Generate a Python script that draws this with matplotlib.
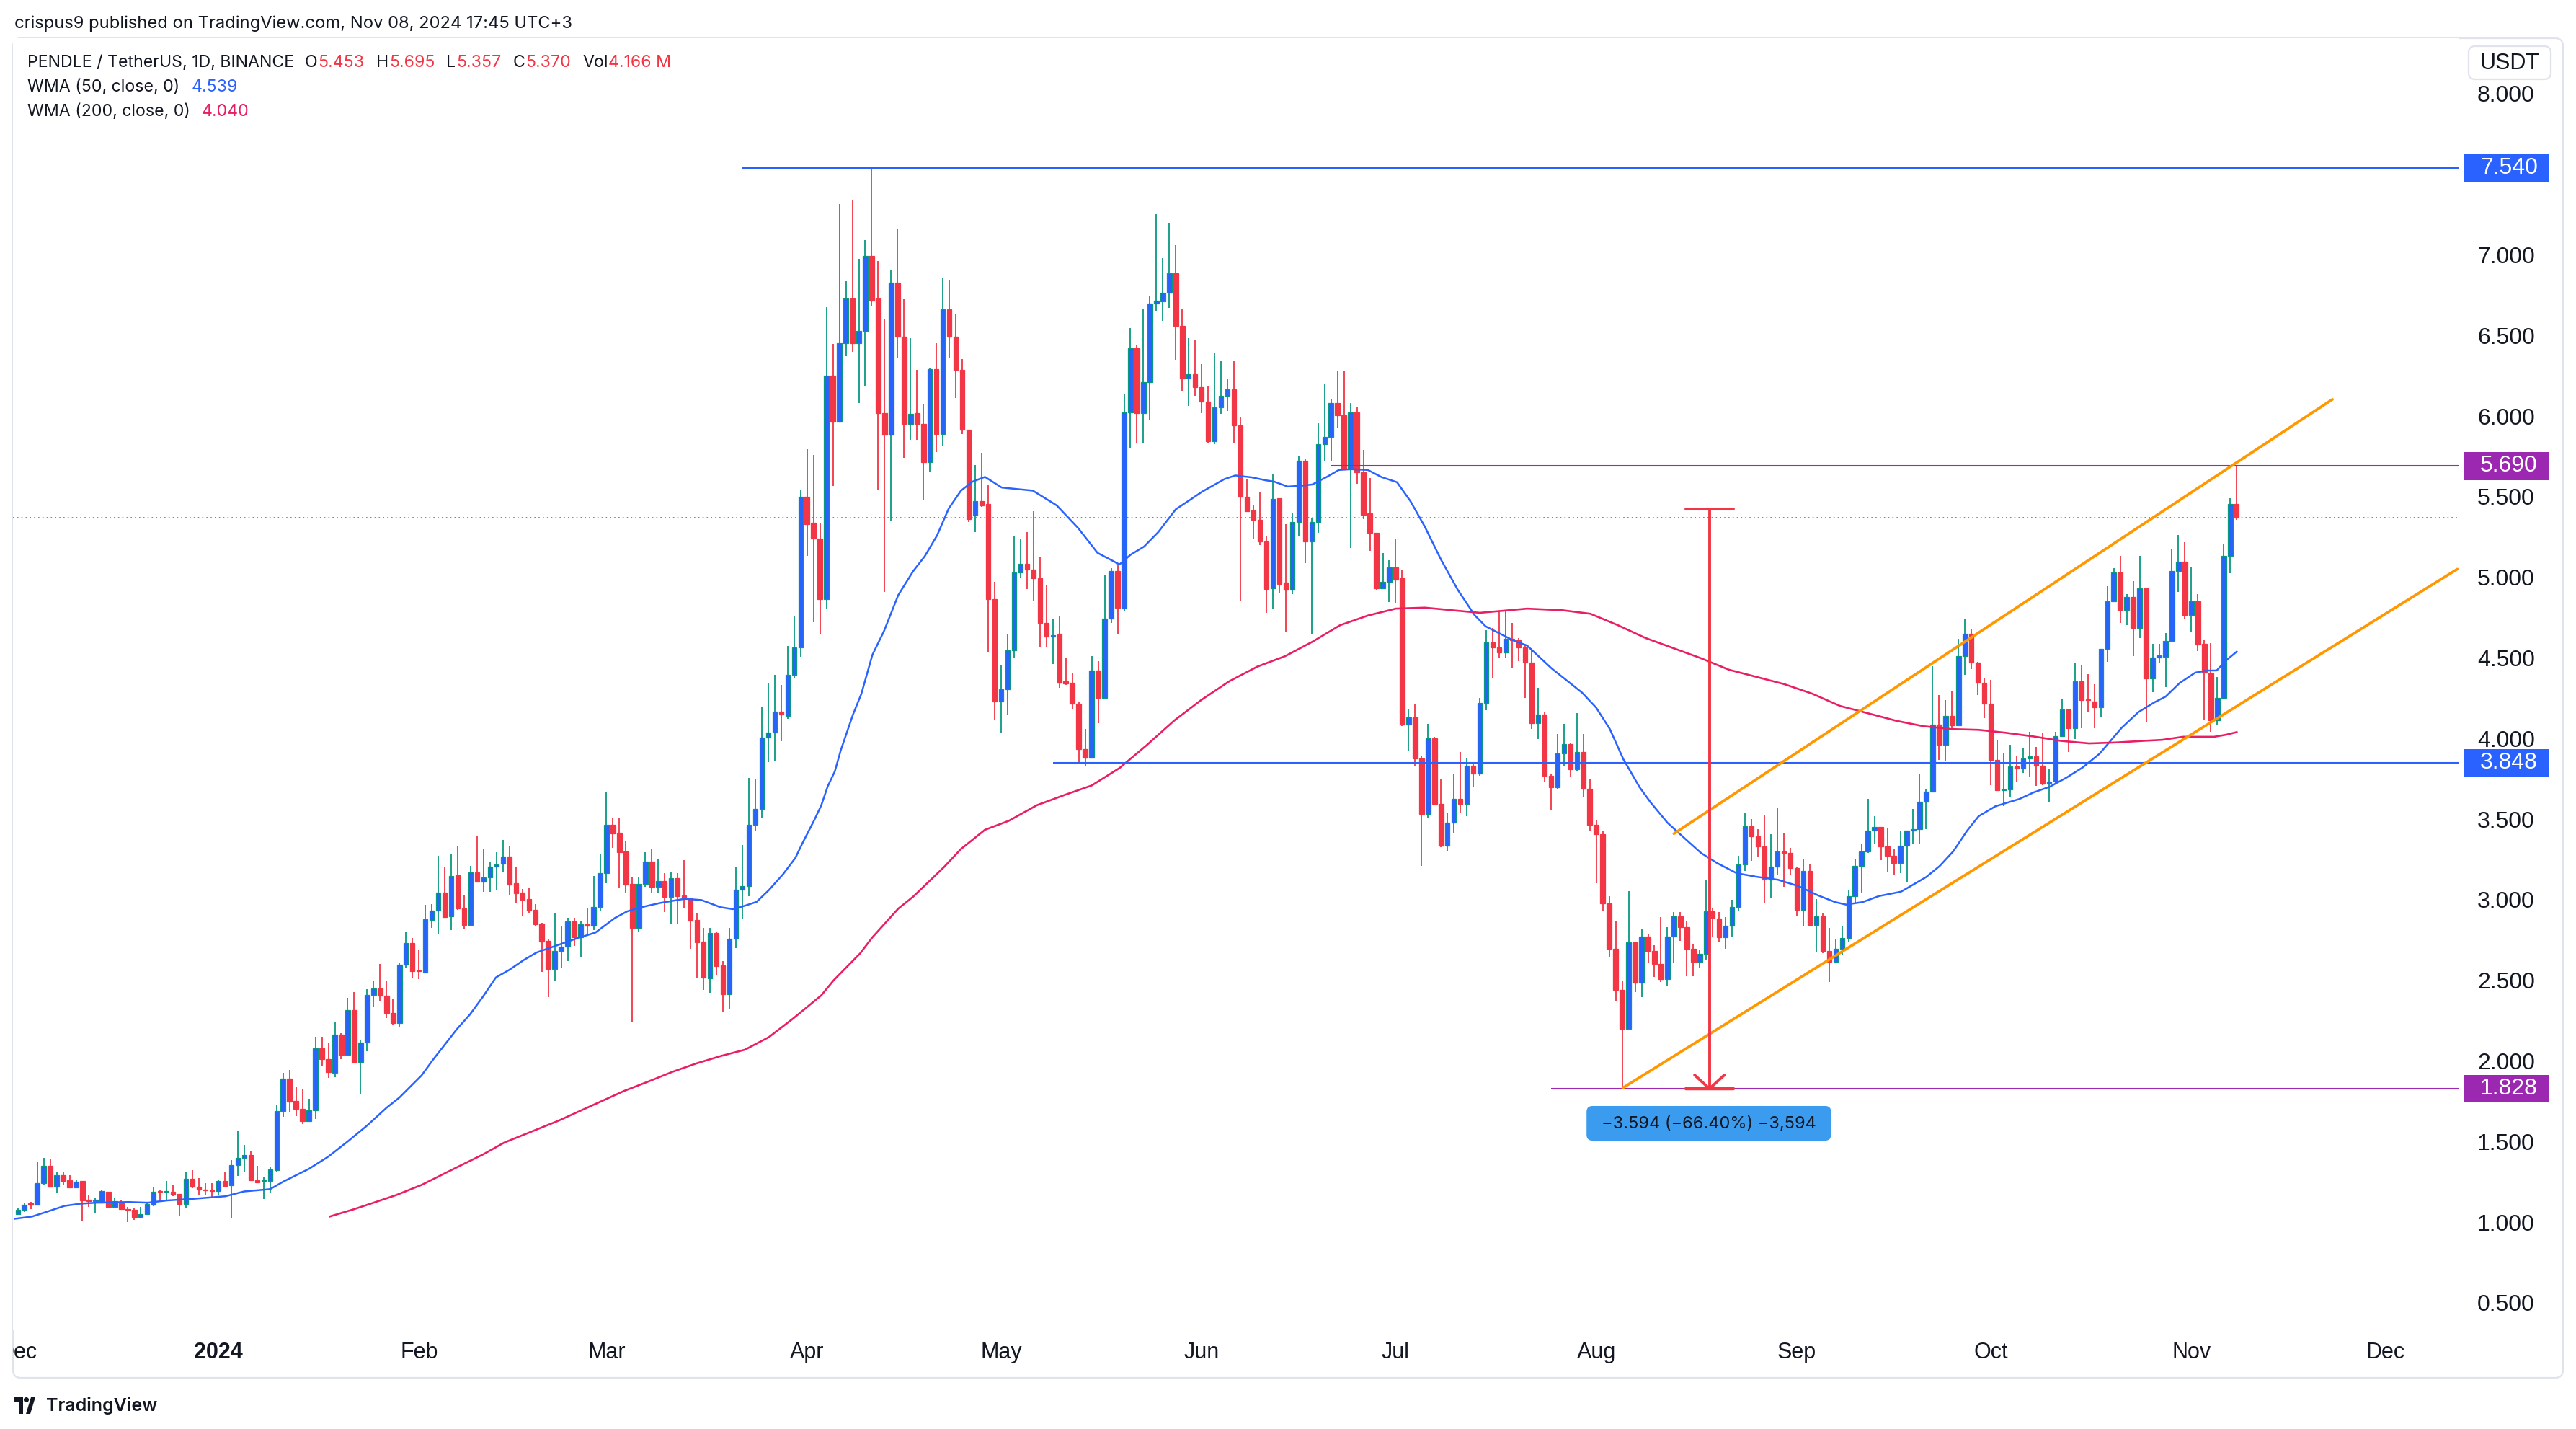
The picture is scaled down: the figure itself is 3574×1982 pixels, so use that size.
import numpy as np
import pandas as pd
import matplotlib
matplotlib.use("Agg")
import matplotlib.pyplot as plt
from matplotlib.patches import Rectangle, FancyBboxPatch, Polygon, Ellipse
import matplotlib.transforms as mtransforms

# ---------------------------------------------------------------- data
start_date = "2023-12-01"          # first daily candle
ref_date = "2024-01-01"            # x axis origin (day 0)

opens = [
    1.052, 1.076, 1.116, 1.108, 1.241, 1.351, 1.221, 1.291, 1.261, 1.217,
    1.255, 1.141, 1.131, 1.121, 1.187, 1.095, 1.127, 1.081, 1.075, 1.031,
    1.051, 1.107, 1.195, 1.187, 1.187, 1.177, 1.111, 1.271, 1.221, 1.201,
    1.199, 1.191, 1.255, 1.227, 1.355, 1.397, 1.417, 1.261, 1.255, 1.255,
    1.321, 1.690, 1.890, 1.750, 1.704, 1.627, 1.694, 2.080, 2.010, 1.926,
    2.165, 2.040, 2.315, 1.994, 2.113, 2.409, 2.449, 2.405, 2.299, 2.233,
    2.599, 2.732, 2.563, 2.549, 2.874, 2.934, 3.044, 2.898, 3.151, 2.948,
    2.844, 3.171, 3.111, 3.137, 3.207, 3.222, 3.267, 3.103, 3.043, 3.003,
    2.936, 2.852, 2.745, 2.569, 2.681, 2.708, 2.864, 2.767, 2.846, 2.839,
    2.954, 3.165, 3.464, 3.416, 3.300, 3.098, 2.824, 3.100, 3.237, 3.080,
    3.118, 3.016, 3.133, 3.025, 3.010, 2.875, 2.741, 2.514, 2.794, 2.593,
    2.413, 2.760, 3.063, 3.083, 3.464, 3.562, 4.005, 4.038, 4.167, 4.141,
    4.397, 4.564, 5.501, 5.338, 5.242, 4.864, 6.249, 5.964, 6.453, 6.731,
    6.453, 6.527, 6.994, 6.731, 6.020, 5.883, 6.827, 6.494, 5.953, 6.020,
    5.953, 5.716, 6.290, 5.890, 6.661, 6.494, 6.286, 5.916, 5.382, 5.475,
    5.457, 4.864, 4.230, 4.304, 4.545, 5.030, 5.086, 5.049, 4.993, 4.716,
    4.630, 4.649, 4.353, 4.345, 4.215, 3.933, 3.882, 4.421, 4.254, 4.742,
    5.037, 4.806, 6.025, 6.423, 6.020, 6.213, 6.698, 6.713, 6.765, 6.885,
    6.559, 6.231, 6.261, 6.180, 6.089, 5.846, 6.056, 6.128, 6.167, 5.943,
    5.499, 5.414, 5.358, 5.224, 4.934, 5.491, 4.968, 4.921, 5.345, 5.725,
    5.224, 5.345, 5.828, 5.871, 6.082, 6.005, 5.671, 6.025, 5.653, 5.396,
    5.276, 4.934, 4.973, 5.062, 4.993, 4.087, 4.131, 3.877, 3.532, 4.002,
    3.594, 3.337, 3.478, 3.626, 3.594, 3.833, 3.783, 4.222, 4.598, 4.567,
    4.536, 4.617, 4.608, 4.567, 4.473, 4.096, 4.147, 3.770, 3.698, 3.908,
    3.965, 3.808, 3.918, 3.689, 3.463, 3.406, 2.976, 2.694, 2.443, 2.201,
    2.735, 2.484, 2.772, 2.684, 2.600, 2.506, 2.772, 2.898, 2.829, 2.694,
    2.616, 2.663, 2.929, 2.882, 2.766, 2.841, 2.954, 3.218, 3.456, 3.394,
    3.331, 3.124, 3.205, 3.299, 3.290, 3.196, 2.936, 3.180, 2.845, 2.895,
    2.681, 2.617, 2.697, 2.765, 3.023, 3.210, 3.301, 3.427, 3.450, 3.329,
    3.274, 3.228, 3.335, 3.427, 3.438, 3.609, 3.671, 4.088, 3.963, 4.139,
    4.082, 4.510, 4.652, 4.472, 4.344, 4.218, 3.867, 3.678, 3.685, 3.826,
    3.815, 3.876, 3.888, 3.831, 3.719, 3.735, 4.013, 4.180, 4.066, 4.355,
    4.242, 4.230, 4.196, 4.556, 4.853, 5.031, 4.796, 4.880, 4.686, 4.932,
    4.374, 4.504, 4.507, 4.607, 5.038, 5.097, 4.768, 4.851, 4.589, 4.409,
    4.114, 4.250, 5.133, 5.453,
]
highs = [
    1.086, 1.116, 1.128, 1.375, 1.401, 1.395, 1.315, 1.311, 1.291, 1.265,
    1.255, 1.167, 1.147, 1.201, 1.187, 1.147, 1.135, 1.095, 1.091, 1.095,
    1.115, 1.221, 1.201, 1.255, 1.231, 1.177, 1.311, 1.321, 1.275, 1.241,
    1.241, 1.261, 1.311, 1.387, 1.565, 1.481, 1.441, 1.351, 1.281, 1.341,
    1.730, 1.926, 1.946, 1.836, 1.830, 1.766, 2.149, 2.149, 2.114, 2.245,
    2.173, 2.393, 2.429, 2.133, 2.445, 2.499, 2.603, 2.493, 2.389, 2.609,
    2.804, 2.764, 2.688, 2.968, 2.972, 3.273, 3.207, 3.287, 3.331, 3.032,
    3.211, 3.397, 3.311, 3.237, 3.297, 3.371, 3.331, 3.203, 3.065, 3.073,
    2.973, 2.857, 2.755, 2.916, 2.839, 2.890, 2.887, 2.872, 2.946, 3.148,
    3.282, 3.669, 3.505, 3.510, 3.367, 3.137, 3.145, 3.297, 3.316, 3.249,
    3.167, 3.174, 3.167, 3.247, 3.013, 2.919, 2.827, 2.827, 2.805, 2.621,
    2.827, 3.203, 3.341, 3.756, 3.751, 4.193, 4.341, 4.397, 4.334, 4.575,
    4.760, 5.545, 5.797, 5.760, 5.334, 6.676, 6.446, 7.316, 6.835, 7.342,
    6.976, 7.094, 7.540, 6.964, 6.605, 6.902, 7.161, 6.724, 6.483, 6.287,
    6.075, 6.298, 6.453, 6.853, 6.842, 6.631, 6.353, 5.916, 5.697, 5.771,
    5.575, 4.971, 4.452, 4.649, 5.253, 5.242, 5.279, 5.409, 5.123, 4.953,
    4.742, 4.760, 4.501, 4.408, 4.223, 4.061, 4.510, 4.480, 5.018, 5.055,
    5.075, 6.141, 6.544, 6.441, 6.662, 6.744, 7.252, 6.980, 7.199, 7.060,
    6.662, 6.482, 6.469, 6.321, 6.187, 6.390, 6.341, 6.231, 6.341, 5.994,
    5.609, 5.447, 5.532, 5.260, 5.645, 5.491, 5.332, 5.396, 5.751, 5.738,
    5.371, 5.956, 6.200, 6.102, 6.282, 6.282, 6.082, 6.056, 5.789, 5.614,
    5.276, 5.152, 5.106, 5.234, 5.050, 4.182, 4.216, 3.896, 4.090, 4.012,
    3.745, 3.541, 3.783, 3.918, 3.877, 3.839, 4.253, 4.671, 4.686, 4.787,
    4.796, 4.718, 4.624, 4.577, 4.561, 4.316, 4.169, 3.776, 4.028, 4.090,
    3.971, 4.159, 4.028, 3.745, 3.494, 3.425, 3.024, 2.866, 2.496, 3.055,
    2.741, 2.819, 2.788, 2.716, 2.891, 2.829, 2.923, 2.923, 2.866, 2.725,
    2.685, 3.124, 2.945, 2.923, 2.891, 2.998, 3.274, 3.541, 3.500, 3.437,
    3.525, 3.406, 3.572, 3.416, 3.321, 3.199, 3.256, 3.217, 3.005, 2.913,
    2.827, 2.754, 2.833, 3.062, 3.249, 3.347, 3.625, 3.518, 3.450, 3.443,
    3.313, 3.427, 3.427, 3.564, 3.776, 3.689, 4.447, 4.271, 4.237, 4.294,
    4.620, 4.739, 4.682, 4.476, 4.378, 4.362, 3.990, 3.906, 3.963, 3.888,
    3.940, 4.043, 3.947, 4.038, 3.815, 4.043, 4.242, 4.180, 4.472, 4.458,
    4.401, 4.339, 4.556, 4.944, 5.058, 5.133, 4.898, 4.978, 5.131, 4.935,
    4.589, 4.589, 4.653, 5.179, 5.261, 5.218, 5.064, 4.897, 4.614, 4.594,
    4.383, 5.210, 5.492, 5.695,
]
lows = [
    1.048, 1.062, 1.082, 1.102, 1.231, 1.215, 1.181, 1.231, 1.211, 1.211,
    1.011, 1.096, 1.061, 1.121, 1.091, 1.091, 1.081, 1.001, 1.015, 1.027,
    1.046, 1.101, 1.135, 1.141, 1.161, 1.035, 1.086, 1.211, 1.167, 1.167,
    1.155, 1.171, 1.221, 1.021, 1.285, 1.315, 1.255, 1.241, 1.146, 1.181,
    1.311, 1.655, 1.680, 1.660, 1.610, 1.621, 1.640, 1.970, 1.894, 1.900,
    2.010, 2.034, 1.994, 1.796, 2.060, 2.339, 2.369, 2.265, 2.225, 2.213,
    2.579, 2.513, 2.509, 2.543, 2.824, 2.788, 2.888, 2.812, 2.936, 2.818,
    2.834, 3.107, 3.048, 3.048, 3.064, 3.173, 3.033, 2.980, 2.899, 2.921,
    2.834, 2.554, 2.398, 2.496, 2.581, 2.618, 2.715, 2.648, 2.775, 2.812,
    2.931, 3.103, 3.322, 3.073, 3.039, 2.241, 2.805, 3.080, 3.043, 3.043,
    2.924, 2.854, 2.854, 2.951, 2.697, 2.514, 2.439, 2.424, 2.532, 2.305,
    2.320, 2.700, 2.884, 3.024, 3.426, 3.510, 3.852, 3.860, 3.982, 4.123,
    4.378, 4.508, 5.131, 4.723, 4.649, 4.808, 5.568, 5.964, 6.372, 6.398,
    6.083, 6.186, 6.687, 5.538, 4.908, 5.353, 6.361, 5.742, 5.853, 5.853,
    5.483, 5.657, 5.779, 5.816, 6.361, 6.112, 5.890, 5.342, 5.279, 5.438,
    4.538, 4.119, 4.038, 4.149, 4.501, 4.993, 4.927, 4.853, 4.567, 4.564,
    4.464, 4.316, 4.334, 4.186, 3.852, 3.830, 3.882, 4.095, 4.249, 4.716,
    4.652, 4.793, 5.799, 5.833, 5.833, 5.979, 6.654, 6.590, 6.672, 6.346,
    6.159, 6.064, 6.128, 6.020, 5.833, 5.825, 6.013, 6.030, 5.833, 4.857,
    5.409, 5.235, 5.199, 4.780, 4.806, 4.901, 4.659, 4.896, 5.260, 5.088,
    4.652, 5.276, 5.717, 5.722, 5.928, 5.671, 5.183, 5.581, 5.363, 5.165,
    4.921, 4.934, 4.849, 4.844, 4.079, 3.920, 3.830, 3.212, 3.509, 3.588,
    3.328, 3.306, 3.416, 3.541, 3.519, 3.698, 3.770, 4.178, 4.373, 4.498,
    4.504, 4.435, 4.482, 4.253, 4.059, 3.996, 3.729, 3.557, 3.689, 3.833,
    3.761, 3.801, 3.635, 3.431, 3.102, 2.929, 2.647, 2.371, 1.828, 2.198,
    2.427, 2.396, 2.609, 2.521, 2.490, 2.465, 2.609, 2.747, 2.528, 2.528,
    2.578, 2.622, 2.766, 2.735, 2.694, 2.766, 2.929, 3.180, 3.243, 3.268,
    2.976, 3.008, 3.155, 3.080, 3.155, 2.902, 2.840, 2.840, 2.674, 2.667,
    2.491, 2.617, 2.658, 2.742, 2.982, 3.039, 3.290, 3.342, 3.244, 3.176,
    3.153, 3.164, 3.107, 3.342, 3.342, 3.438, 3.671, 3.867, 3.860, 4.050,
    4.077, 4.396, 4.431, 4.271, 4.127, 3.712, 3.678, 3.580, 3.637, 3.735,
    3.785, 3.758, 3.707, 3.712, 3.609, 3.716, 4.013, 3.917, 3.997, 4.066,
    4.168, 4.066, 4.134, 4.476, 4.853, 4.716, 4.705, 4.510, 4.625, 4.101,
    4.286, 4.465, 4.319, 4.607, 4.910, 4.743, 4.661, 4.542, 4.114, 4.044,
    4.088, 4.250, 5.025, 5.357,
]
closes = [
    1.076, 1.108, 1.108, 1.241, 1.351, 1.221, 1.291, 1.255, 1.217, 1.251,
    1.135, 1.131, 1.141, 1.191, 1.095, 1.131, 1.081, 1.075, 1.031, 1.051,
    1.111, 1.187, 1.187, 1.195, 1.171, 1.111, 1.271, 1.221, 1.201, 1.197,
    1.195, 1.255, 1.225, 1.355, 1.401, 1.417, 1.261, 1.247, 1.261, 1.327,
    1.690, 1.890, 1.746, 1.704, 1.625, 1.694, 2.080, 2.010, 1.930, 2.165,
    2.040, 2.315, 1.994, 2.113, 2.409, 2.449, 2.405, 2.299, 2.233, 2.599,
    2.732, 2.559, 2.557, 2.878, 2.934, 3.044, 2.894, 3.147, 2.944, 2.844,
    3.171, 3.111, 3.137, 3.207, 3.221, 3.267, 3.095, 3.040, 3.001, 2.931,
    2.849, 2.742, 2.569, 2.681, 2.708, 2.864, 2.767, 2.846, 2.837, 2.954,
    3.165, 3.464, 3.413, 3.297, 3.095, 2.827, 3.100, 3.237, 3.080, 3.118,
    3.016, 3.133, 3.024, 3.003, 2.869, 2.738, 2.518, 2.794, 2.588, 2.413,
    2.760, 3.061, 3.083, 3.464, 3.562, 4.005, 4.038, 4.167, 4.149, 4.397,
    4.564, 5.501, 5.331, 5.242, 4.864, 6.249, 5.964, 6.453, 6.731, 6.453,
    6.527, 6.994, 6.716, 6.020, 5.883, 6.827, 6.494, 5.953, 6.012, 5.953,
    5.716, 6.290, 5.890, 6.661, 6.494, 6.286, 5.916, 5.360, 5.475, 5.446,
    4.864, 4.230, 4.304, 4.545, 5.030, 5.086, 5.049, 4.993, 4.716, 4.630,
    4.640, 4.345, 4.342, 4.215, 3.935, 3.882, 4.421, 4.254, 4.742, 5.037,
    4.813, 6.025, 6.423, 6.020, 6.213, 6.698, 6.718, 6.765, 6.885, 6.559,
    6.231, 6.261, 6.180, 6.089, 5.846, 6.056, 6.128, 6.167, 5.943, 5.499,
    5.409, 5.358, 5.224, 4.926, 5.486, 4.960, 4.921, 5.345, 5.725, 5.224,
    5.345, 5.828, 5.871, 6.082, 6.005, 5.671, 6.025, 5.653, 5.389, 5.276,
    4.934, 4.973, 5.062, 4.986, 4.087, 4.131, 3.877, 3.532, 4.002, 3.594,
    3.337, 3.478, 3.626, 3.594, 3.833, 3.783, 4.222, 4.598, 4.567, 4.536,
    4.617, 4.608, 4.567, 4.473, 4.096, 4.147, 3.770, 3.698, 3.908, 3.965,
    3.808, 3.918, 3.689, 3.463, 3.406, 2.976, 2.694, 2.443, 2.201, 2.735,
    2.484, 2.772, 2.684, 2.600, 2.506, 2.772, 2.898, 2.829, 2.694, 2.616,
    2.663, 2.929, 2.889, 2.766, 2.841, 2.954, 3.218, 3.456, 3.394, 3.331,
    3.124, 3.205, 3.299, 3.290, 3.196, 2.936, 3.180, 2.845, 2.895, 2.681,
    2.617, 2.697, 2.765, 3.023, 3.210, 3.301, 3.427, 3.450, 3.329, 3.274,
    3.228, 3.335, 3.427, 3.438, 3.609, 3.671, 4.088, 3.963, 4.139, 4.082,
    4.510, 4.652, 4.472, 4.344, 4.218, 3.867, 3.678, 3.685, 3.826, 3.815,
    3.876, 3.888, 3.831, 3.719, 3.735, 4.013, 4.180, 4.066, 4.355, 4.237,
    4.237, 4.196, 4.556, 4.853, 5.031, 4.796, 4.880, 4.686, 4.932, 4.374,
    4.504, 4.515, 4.607, 5.038, 5.097, 4.768, 4.851, 4.583, 4.409, 4.114,
    4.250, 5.133, 5.454, 5.370,
]

# WMA indicator values (x = days since 2024-01-01)
wma50_day = [
    -31.5, -28.8, -26.8, -23.8, -21.3, -18.8, -13.9, -10.9, -7.9, -3.9,
    1.1, 4.0, 8.0, 10.0, 14.0, 17.0, 20.0, 23.0, 26.0, 28.0,
    31.4, 33.2, 36.9, 38.9, 40.9, 42.9, 45.0, 47.2, 49.2, 51.7,
    55.4, 58.3, 61.3, 63.2, 65.4, 68.4, 72.1, 74.7, 77.6, 79.5,
    81.4, 83.2, 85.1, 87.3, 89.2, 90.3, 92.1, 93.2, 94.2, 95.3,
    96.2, 98.1, 99.4, 101.1, 102.9, 105.1, 107.4, 109.2, 111.1, 112.9,
    114.8, 116.6, 118.5, 121.1, 125.9, 129.6, 132.9, 135.9, 139.3, 141.0,
    143.1, 145.3, 148.0, 150.4, 152.1, 155.5, 157.2, 159.8, 161.9, 163.2,
    165.3, 167.4, 169.1, 171.3, 173.2, 175.1, 177.7, 179.8, 182.2, 184.3,
    186.5, 189.0, 191.6, 194.2, 195.9, 200.2, 202.3, 206.1, 210.8, 213.0,
    215.1, 217.2, 219.7, 221.4, 224.0, 227.0, 229.2, 231.7, 234.7, 237.7,
    241.1, 244.3, 247.3, 249.9, 251.6, 254.2, 256.7, 260.1, 264.0, 266.1,
    268.2, 270.3, 272.1, 274.7, 278.4, 280.6, 283.1, 285.7, 288.2, 290.8,
    292.5, 294.2, 296.8, 299.3, 301.0, 303.2, 305.6, 307.5, 308.9, 310.4,
    312.0,
]
wma50_val = [
    1.021, 1.035, 1.061, 1.101, 1.115, 1.121, 1.125, 1.121, 1.135, 1.145,
    1.161, 1.191, 1.205, 1.251, 1.331, 1.407, 1.501, 1.600, 1.710, 1.774,
    1.910, 2.009, 2.199, 2.289, 2.399, 2.518, 2.566, 2.626, 2.673, 2.708,
    2.760, 2.797, 2.887, 2.928, 2.954, 2.981, 3.006, 2.998, 2.954, 2.942,
    2.963, 2.987, 3.060, 3.159, 3.260, 3.352, 3.493, 3.586, 3.704, 3.797,
    3.926, 4.149, 4.278, 4.519, 4.667, 4.890, 5.038, 5.131, 5.260, 5.427,
    5.538, 5.594, 5.623, 5.557, 5.538, 5.446, 5.306, 5.152, 5.080, 5.140,
    5.191, 5.281, 5.422, 5.486, 5.532, 5.609, 5.632, 5.620, 5.602, 5.594,
    5.563, 5.568, 5.576, 5.622, 5.666, 5.671, 5.666, 5.622, 5.590, 5.471,
    5.314, 5.110, 4.922, 4.765, 4.696, 4.608, 4.577, 4.435, 4.285, 4.191,
    4.059, 3.871, 3.698, 3.604, 3.478, 3.369, 3.290, 3.227, 3.165, 3.143,
    3.124, 3.084, 3.027, 2.986, 2.970, 2.986, 3.023, 3.050, 3.141, 3.210,
    3.301, 3.427, 3.518, 3.580, 3.625, 3.666, 3.701, 3.758, 3.821, 3.906,
    3.986, 4.066, 4.164, 4.225, 4.260, 4.345, 4.409, 4.422, 4.422, 4.486,
    4.539,
]
wma200_day = [
    17.2, 21.0, 24.0, 27.4, 31.4, 34.4, 37.4, 40.9, 44.2, 52.6,
    62.7, 66.5, 70.2, 73.9, 77.6, 81.4, 85.1, 88.8, 93.2, 95.1,
    99.2, 101.1, 105.1, 107.4, 112.2, 114.8, 118.5, 122.2, 126.5, 130.8,
    135.0, 139.3, 143.5, 147.8, 152.0, 156.3, 160.6, 164.9, 169.1, 173.4,
    177.7, 182.0, 186.5, 195.0, 202.3, 207.8, 212.1, 216.4, 220.6, 224.9,
    229.2, 233.5, 237.8, 242.1, 246.4, 250.7, 255.0, 259.3, 263.5, 267.8,
    272.1, 276.3, 280.6, 284.8, 289.2, 293.5, 297.6, 300.5, 303.7, 308.5,
    310.4, 312.0,
]
wma200_val = [
    1.035, 1.081, 1.121, 1.167, 1.231, 1.291, 1.351, 1.420, 1.494, 1.630,
    1.814, 1.873, 1.933, 1.985, 2.030, 2.070, 2.148, 2.262, 2.407, 2.500,
    2.667, 2.767, 2.945, 3.019, 3.204, 3.315, 3.434, 3.490, 3.586, 3.650,
    3.709, 3.817, 3.959, 4.113, 4.241, 4.356, 4.446, 4.511, 4.600, 4.703,
    4.763, 4.806, 4.812, 4.780, 4.806, 4.796, 4.774, 4.702, 4.624, 4.561,
    4.498, 4.427, 4.382, 4.337, 4.278, 4.202, 4.157, 4.111, 4.077, 4.059,
    4.054, 4.036, 4.013, 3.986, 3.970, 3.976, 3.986, 3.992, 4.011, 4.011,
    4.024, 4.040,
]

month_labels = ["Dec", "2024", "Feb", "Mar", "Apr", "May", "Jun", "Jul",
                "Aug", "Sep", "Oct", "Nov", "Dec"]
month_starts = ["2023-12-01", "2024-01-01", "2024-02-01", "2024-03-01",
                "2024-04-01", "2024-05-01", "2024-06-01", "2024-07-01",
                "2024-08-01", "2024-09-01", "2024-10-01", "2024-11-01",
                "2024-12-01"]
price_ticks = [0.5, 1.0, 1.5, 2.0, 2.5, 3.0, 3.5, 4.0, 4.5, 5.0, 5.5,
               6.0, 6.5, 7.0, 8.0]

# drawings (price levels / labels)
level_prices = [7.540, 5.690, 3.848, 1.828]
level_colors = ["#2962FF", "#9C27B0", "#2962FF", "#9C27B0"]
level_start_day = [81, 172, 129, 206]
measure_top, measure_bottom = 5.422, 1.828
measure_text = "\u22123.594 (\u221266.40%) \u22123,594"

# ---------------------------------------------------------------- style
plt.rcParams["font.family"] = ["Liberation Sans", "DejaVu Sans"]
UI = ["Inter", "DejaVu Sans"]
AXF = ["Liberation Sans", "DejaVu Sans"]
GREEN, BLUE, RED = "#089981", "#2962FF", "#F23645"
TXT = "#131722"

W, H, DPI = 3574, 1982, 200
fig = plt.figure(figsize=(W / DPI, H / DPI), dpi=DPI)
fig.patch.set_facecolor("white")


def fx(p):
    return p / W


def fy(p):
    return 1 - p / H


X0, X1, Y0, Y1 = 18, 3412, 53, 1845
ax = fig.add_axes([fx(X0), fy(Y1), fx(X1) - fx(X0), fy(Y0) - fy(Y1)])
XL = (-31.75, 346.4)
YL = (0.330, 8.344)
ax.set_xlim(*XL)
ax.set_ylim(*YL)
ax.set_facecolor("white")
for s in ax.spines.values():
    s.set_visible(False)
ax.set_xticks([])
ax.yaxis.tick_right()
ax.set_yticks(price_ticks)
ax.set_yticklabels([f"{v:.3f}" for v in price_ticks])
ax.tick_params(axis="y", length=0, pad=9, labelsize=11.5, labelcolor=TXT)
for lb in ax.get_yticklabels():
    lb.set_fontfamily(AXF)

# ---------------------------------------------------------------- candles
ref = pd.Timestamp(ref_date)
dates = pd.date_range(start_date, periods=len(closes), freq="D")
x = np.asarray((dates - ref).days, dtype=float)
o, h, l, c = (np.asarray(v) for v in (opens, highs, lows, closes))
up = c >= o
dn = ~up
ax.vlines(x[up], l[up], h[up], color=GREEN, lw=0.65, zorder=3)
ax.vlines(x[dn], l[dn], h[dn], color=RED, lw=0.65, zorder=3)
ax.bar(x[up], np.maximum(c[up] - o[up], 0.004), bottom=o[up], width=0.72,
       color=BLUE, edgecolor=GREEN, linewidth=0.45, zorder=3.2)
ax.bar(x[dn], np.maximum(o[dn] - c[dn], 0.004), bottom=c[dn], width=0.72,
       color=RED, edgecolor=RED, linewidth=0.45, zorder=3.2)

# indicators
ax.plot(wma50_day, wma50_val, color="#2962FF", lw=0.9, zorder=4)
ax.plot(wma200_day, wma200_val, color="#E91E63", lw=0.95, zorder=4)

# current price line
ax.axhline(closes[-1], color=RED, lw=0.6, ls=(0, (1, 2.5)), zorder=1)

# horizontal levels
for p, col, d0 in zip(level_prices, level_colors, level_start_day):
    ax.hlines(p, d0, XL[1], color=col, lw=0.75, zorder=5)

# rising channel
ax.plot([225.0, 326.8], [3.410, 6.104], color="#FF9800", lw=1.35,
        solid_capstyle="round", zorder=5)
ax.plot([217.1, 346.1], [1.833, 5.051], color="#FF9800", lw=1.35,
        solid_capstyle="round", zorder=5)

# measure tool
mx = 230.5
ax.plot([mx, mx], [measure_top, measure_bottom], color=RED, lw=1.4, zorder=6)
ax.plot([226.9, 234.2], [measure_top, measure_top], color=RED, lw=1.4,
        solid_capstyle="round", zorder=6)
ax.plot([226.9, 234.2], [measure_bottom, measure_bottom], color=RED, lw=1.6,
        solid_capstyle="round", zorder=6)
ax.plot([mx - 2.3, mx, mx + 2.3],
        [measure_bottom + 0.085, measure_bottom, measure_bottom + 0.085],
        color=RED, lw=1.4, solid_capstyle="round", zorder=6)
box = FancyBboxPatch((211.5, 1.506), 37.8, 0.215,
                     boxstyle="round,pad=0,rounding_size=0.9",
                     mutation_aspect=0.0401, fc="#3A9BEF", ec="none",
                     zorder=7, clip_on=False)
ax.add_patch(box)
ax.text(230.4, 1.612, measure_text, ha="center", va="center", fontsize=8.5,
        color=TXT, family=UI, zorder=8)

# price labels on the scale
blend = mtransforms.blended_transform_factory(fig.transFigure, ax.transData)
for p, col in zip(level_prices, level_colors):
    ax.add_patch(Rectangle((fx(3418), p - 0.087), fx(3537) - fx(3418), 0.174,
                           transform=blend, fc=col, ec="none", zorder=10,
                           clip_on=False))
    ax.text(fx(3481), p, f"{p:.3f}", transform=blend, ha="center",
            va="center", color="white", fontsize=11.5, family=AXF,
            clip_on=False, zorder=11)

# ---------------------------------------------------------------- time axis
tax = fig.add_axes([fx(X0), fy(1911), fx(X1) - fx(X0), fy(Y1) - fy(1911)])
tax.set_xlim(*XL)
tax.set_ylim(0, 1)
tax.axis("off")
for lab, ds in zip(month_labels, month_starts):
    dd = (pd.Timestamp(ds) - ref).days
    tax.text(dd, (1911 - 1876) / 66, lab, ha="center", va="center",
             fontsize=11, color=TXT, family=AXF,
             fontweight="bold" if lab == "2024" else "normal", clip_on=True)

# ---------------------------------------------------------------- frame
asp = W / H
frame = FancyBboxPatch((fx(18), fy(1911)), fx(3556) - fx(18), fy(53) - fy(1911),
                       boxstyle="round,pad=0,rounding_size=0.003",
                       mutation_aspect=asp, transform=fig.transFigure,
                       fc="none", ec="#E0E3EB", lw=0.8, zorder=0)
fig.add_artist(frame)
usdt = FancyBboxPatch((fx(3425), fy(110)), fx(3539) - fx(3425), fy(64) - fy(110),
                      boxstyle="round,pad=0,rounding_size=0.0025",
                      mutation_aspect=asp, transform=fig.transFigure,
                      fc="white", ec="#E0E3EB", lw=0.8)
fig.add_artist(usdt)
fig.text(fx(3482), fy(88), "USDT", ha="center", va="center", fontsize=11,
         color=TXT, family=AXF)

# ---------------------------------------------------------------- header / legend
fig.text(fx(20), fy(39), "crispus9 published on TradingView.com, Nov 08, 2024 17:45 UTC+3",
         ha="left", va="baseline", fontsize=8.55, color=TXT, family=UI)


def chain(y_base_px, parts, fs=8.35):
    yb = fy(y_base_px)
    t0, c0, _ = parts[0]
    prev = fig.text(fx(38), yb, t0, color=c0, fontsize=fs, family=UI,
                    va="baseline", ha="left")
    for txt, col, gap in parts[1:]:
        prev = ax.annotate(txt, xy=(1, yb), xycoords=(prev, "figure fraction"),
                           xytext=(gap, 0), textcoords="offset points",
                           color=col, fontsize=fs, family=UI, va="baseline",
                           ha="left", annotation_clip=False)


chain(93, [("PENDLE / TetherUS, 1D, BINANCE", TXT, 0),
           ("O", TXT, 5.3), ("5.453", RED, 0.3),
           ("H", TXT, 5.8), ("5.695", RED, 0.3),
           ("L", TXT, 5.8), ("5.357", RED, 0.3),
           ("C", TXT, 5.8), ("5.370", RED, 0.3),
           ("Vol", TXT, 5.8), ("4.166 M", RED, 0.3)])
chain(127, [("WMA (50, close, 0)", TXT, 0), ("4.539", "#2962FF", 5.8)])
chain(161, [("WMA (200, close, 0)", TXT, 0), ("4.040", "#E91E63", 5.8)])

# ---------------------------------------------------------------- logo
def P(px, py):
    return (fx(px), fy(py))


fig.add_artist(Polygon([P(20, 1938), P(32, 1938), P(32, 1961), P(26, 1961),
                        P(26, 1944), P(20, 1944)], closed=True,
                       transform=fig.transFigure, fc=TXT, ec="none"))
fig.add_artist(Ellipse(P(36.5, 1941.5), 7 / W, 7 / H, transform=fig.transFigure,
                       fc=TXT, ec="none"))
fig.add_artist(Polygon([P(36, 1961), P(42, 1961), P(49, 1938), P(43, 1938)],
                       closed=True, transform=fig.transFigure, fc=TXT, ec="none"))
fig.text(fx(64), fy(1949), "TradingView", ha="left", va="center", fontsize=9,
         fontweight="semibold", color=TXT, family=UI)

fig.savefig("out.png", dpi=DPI, facecolor="white")
